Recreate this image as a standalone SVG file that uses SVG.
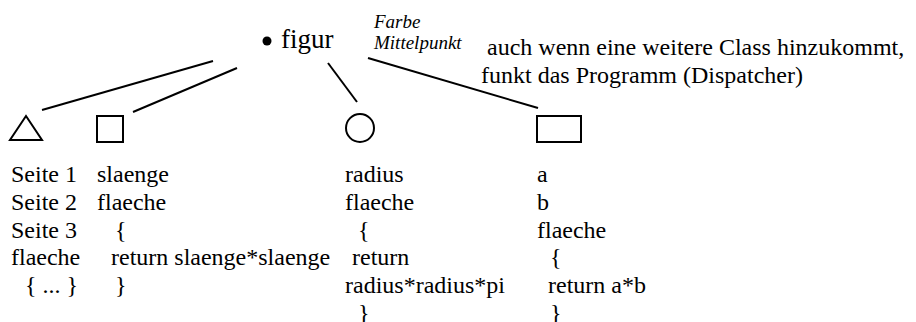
<svg xmlns="http://www.w3.org/2000/svg" width="916" height="322" viewBox="0 0 916 322">
<style>
  text { font-family: "Liberation Serif", Tinos, "Times New Roman", Times, "DejaVu Serif", serif; fill: #000; }
  .t { font-size: 24px; }
  .big { font-size: 27px; }
  .it { font-size: 19px; font-style: italic; }
  .shape { fill: none; stroke: #000; stroke-width: 2; }
  .con line { stroke: #000; stroke-width: 2; }
</style>
<rect width="916" height="322" fill="#fff"/>
<g id="connectors" class="con">
  <line x1="42" y1="110" x2="213" y2="61"/>
  <line x1="133" y1="112" x2="237" y2="68"/>
  <line x1="328" y1="63" x2="357" y2="102"/>
  <line x1="368" y1="58" x2="538" y2="108"/>
</g>
<g id="figur">
  <circle cx="267" cy="41" r="4.5" fill="#000"/>
  <text class="big" x="281" y="48">figur</text>
  <text class="it" x="374" y="28">Farbe</text>
  <text class="it" x="374" y="49">Mittelpunkt</text>
</g>
<g id="note">
  <text class="t" x="487" y="55">auch wenn eine weitere Class hinzukommt,</text>
  <text class="t" x="481" y="83">funkt das Programm (Dispatcher)</text>
</g>
<g id="dreieck">
  <polygon class="shape" points="26,116 10,140 42,140"/>
  <text class="t" x="11" y="182">Seite 1</text>
  <text class="t" x="11" y="210">Seite 2</text>
  <text class="t" x="11" y="238">Seite 3</text>
  <text class="t" x="11" y="265">flaeche</text>
  <text class="t" x="25" y="293">{ ... }</text>
</g>
<g id="quadrat">
  <rect class="shape" x="97" y="116" width="26" height="26"/>
  <text class="t" x="97" y="182">slaenge</text>
  <text class="t" x="97" y="210">flaeche</text>
  <text class="t" x="115" y="238">{</text>
  <text class="t" x="111" y="265">return slaenge*slaenge</text>
  <text class="t" x="115" y="293">}</text>
</g>
<g id="kreis">
  <circle class="shape" cx="360" cy="128" r="14"/>
  <text class="t" x="345" y="182">radius</text>
  <text class="t" x="345" y="210">flaeche</text>
  <text class="t" x="358" y="238">{</text>
  <text class="t" x="352" y="265">return</text>
  <text class="t" x="345" y="293">radius*radius*pi</text>
  <text class="t" x="358" y="321">}</text>
</g>
<g id="rechteck">
  <rect class="shape" x="537" y="116" width="44" height="26"/>
  <text class="t" x="537" y="182">a</text>
  <text class="t" x="537" y="210">b</text>
  <text class="t" x="537" y="238">flaeche</text>
  <text class="t" x="550" y="265">{</text>
  <text class="t" x="548" y="293">return a*b</text>
  <text class="t" x="550" y="321">}</text>
</g>
</svg>
